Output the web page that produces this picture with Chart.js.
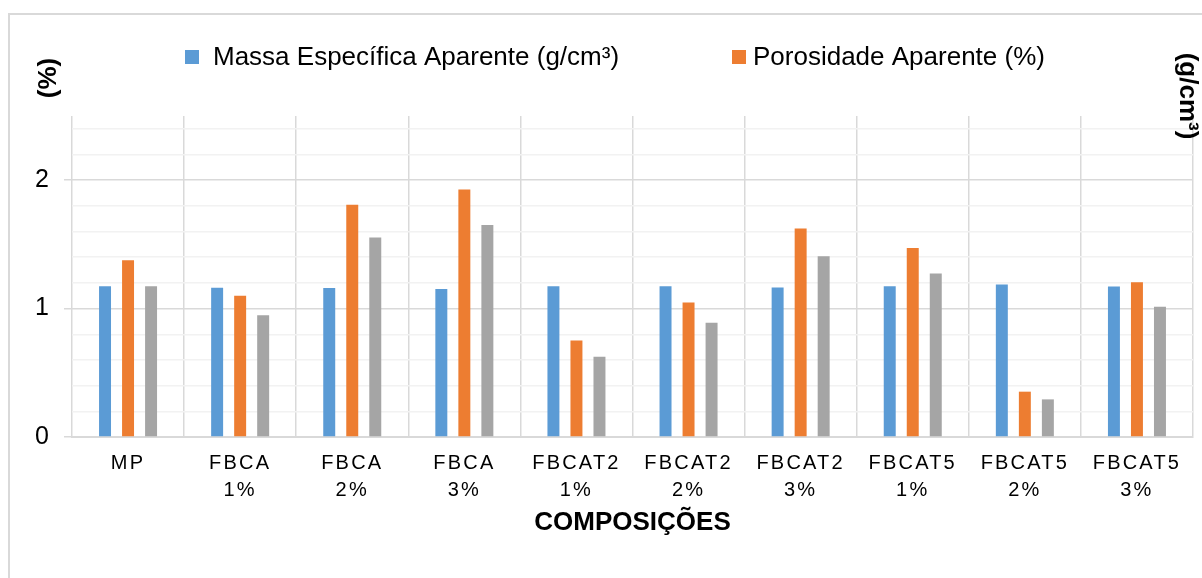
<!DOCTYPE html>
<html>
<head>
<meta charset="utf-8">
<script src="https://cdn.jsdelivr.net/npm/chart.js@4.4.1/dist/chart.umd.min.js"></script>
<style>
  html, body { margin: 0; padding: 0; background: #fff; }
  #wrap { width: 1202px; height: 578px; position: relative; }
</style>
</head>
<body>
<div id="wrap"><canvas id="chart"></canvas></div>
<script>
// Compositions on the category axis (two-line labels)
const categories = [
  'MP',
  ['FBCA', '1%'], ['FBCA', '2%'], ['FBCA', '3%'],
  ['FBCAT2', '1%'], ['FBCAT2', '2%'], ['FBCAT2', '3%'],
  ['FBCAT5', '1%'], ['FBCAT5', '2%'], ['FBCAT5', '3%']
];

const seriesNames = ['Massa Específica Aparente (g/cm³)', 'Porosidade Aparente (%)', 'Série 3'];

const massaEspecifica = [1.175, 1.162, 1.160, 1.152, 1.175, 1.175, 1.165, 1.175, 1.188, 1.173];
const porosidade      = [1.377, 1.100, 1.808, 1.928, 0.752, 1.048, 1.624, 1.471, 0.353, 1.206];
const serie3          = [1.175, 0.949, 1.554, 1.652, 0.625, 0.889, 1.408, 1.274, 0.293, 1.014];

const yTicks = [0, 1, 2];

const FONT = '"Liberation Sans", Arial, Helvetica, sans-serif';
const COLORS = ['#5b9bd5', '#ed7d31', '#a5a5a5'];

const isMajor = v => yTicks.some(t => Math.abs(v - t) < 1e-6);

// Category axis whose tick labels are drawn with extra letter spacing
class SpacedCategoryScale extends Chart.CategoryScale {
  drawLabels(chartArea) {
    const ctx = this.ctx;
    ctx.save();
    ctx.letterSpacing = '2.2px';
    super.drawLabels(chartArea);
    ctx.restore();
  }
}
SpacedCategoryScale.id = 'spacedCategory';
SpacedCategoryScale.defaults = Chart.CategoryScale.defaults;
Chart.register(SpacedCategoryScale);

// Frame, legend and the two side axis titles
const decorations = {
  id: 'decorations',
  beforeDraw(chart) {
    const { ctx, width, height } = chart;
    ctx.save();
    ctx.fillStyle = '#fff';
    ctx.fillRect(0, 0, width, height);
    ctx.strokeStyle = '#d9d9d9';
    ctx.lineWidth = 2;
    ctx.beginPath();
    ctx.moveTo(9, height);
    ctx.lineTo(9, 14);
    ctx.lineTo(width, 14);
    ctx.stroke();
    ctx.restore();
  },
  afterDraw(chart) {
    const { ctx } = chart;
    ctx.save();
    // legend (first two series)
    const legendItems = [
      { box: 185, text: 213, i: 0 },
      { box: 732, text: 753, i: 1 }
    ];
    const ly = 57;
    ctx.font = '26px ' + FONT;
    ctx.textBaseline = 'middle';
    ctx.textAlign = 'left';
    legendItems.forEach(it => {
      const ds = chart.data.datasets[it.i];
      ctx.fillStyle = ds.backgroundColor;
      ctx.fillRect(it.box, ly - 7, 14, 14);
      ctx.fillStyle = '#000';
      ctx.fillText(ds.label, it.text, ly + 1);
    });

    // axis titles
    ctx.font = 'bold 26px ' + FONT;
    ctx.textAlign = 'center';
    ctx.fillStyle = '#000';
    ctx.save();
    ctx.translate(49, 78);
    ctx.rotate(-Math.PI / 2);
    ctx.fillText('(%)', 0, 0);
    ctx.restore();
    ctx.save();
    ctx.translate(1187, 96);
    ctx.rotate(Math.PI / 2);
    ctx.fillText('(g/cm³)', 0, 0);
    ctx.restore();
    ctx.restore();
  }
};

new Chart(document.getElementById('chart'), {
  type: 'bar',
  data: {
    labels: categories,
    datasets: [
      { label: seriesNames[0], data: massaEspecifica, backgroundColor: COLORS[0] },
      { label: seriesNames[1], data: porosidade, backgroundColor: COLORS[1] },
      { label: seriesNames[2], data: serie3, backgroundColor: COLORS[2] }
    ]
  },
  options: {
    responsive: true,
    maintainAspectRatio: false,
    animation: false,
    layout: { padding: { top: 116, right: 9, bottom: 0, left: 0 } },
    datasets: { bar: { categoryPercentage: 0.616, barPercentage: 0.52 } },
    plugins: { legend: { display: false }, tooltip: { enabled: false } },
    scales: {
      x: {
        type: 'spacedCategory',
        grid: { color: '#d9d9d9', lineWidth: 1.5, drawTicks: false, offset: true },
        border: { color: '#d9d9d9', width: 2 },
        ticks: {
          font: { family: FONT, size: 20, lineHeight: 1.35 },
          color: '#000',
          padding: 13,
          maxRotation: 0,
          autoSkip: false
        },
        title: {
          display: true,
          text: 'COMPOSIÇÕES',
          color: '#000',
          font: { family: FONT, size: 26, weight: 'bold', lineHeight: 1.2 },
          padding: { top: 0, bottom: 40 }
        },
        afterFit(scale) { scale.height = 141; }
      },
      y: {
        min: 0,
        max: 2.5,
        ticks: {
          stepSize: 0.2,
          includeBounds: false,
          autoSkip: false,
          callback: v => (isMajor(v) ? String(Math.round(v)) : ''),
          font: { family: FONT, size: 25 },
          color: '#000',
          padding: 15
        },
        grid: {
          color: c => (isMajor(c.tick.value) ? '#d9d9d9' : '#f2f2f2'),
          lineWidth: 1.5,
          tickLength: 8,
          tickColor: c => (isMajor(c.tick.value) ? '#d9d9d9' : 'rgba(0,0,0,0)')
        },
        border: { display: false },
        afterFit(scale) { scale.width = 72; }
      }
    }
  },
  plugins: [decorations]
});
</script>
</body>
</html>
